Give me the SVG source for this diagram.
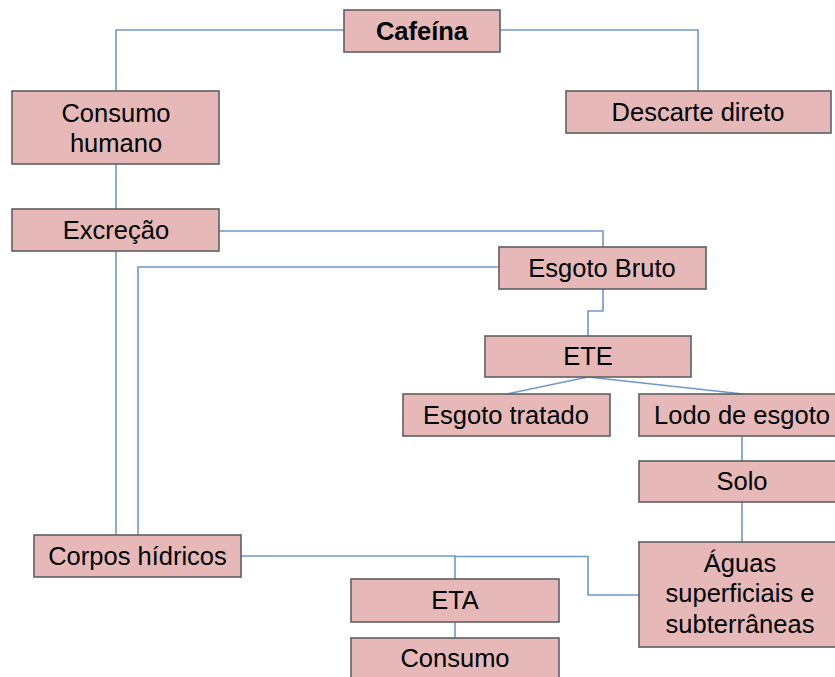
<svg xmlns="http://www.w3.org/2000/svg" width="835" height="677" viewBox="0 0 835 677">
<style>
.box{fill:#e6b9b8;stroke:#5f5f5f;stroke-width:1.6}
.t{font-family:"Liberation Sans",Arial,sans-serif;font-size:25.5px;fill:#000;text-anchor:middle}
.b{font-weight:bold}
.c{fill:none;stroke:#6f97cc;stroke-width:1.6}
</style>
<rect width="835" height="677" fill="#fff"/>
<g id="connectors">
<path class="c" d="M344,30 H116 V91"/>
<path class="c" d="M500,30 H698 V91"/>
<path class="c" d="M116,164 V209"/>
<path class="c" d="M219,231 H603 V247"/>
<path class="c" d="M499,267 H138 V535"/>
<path class="c" d="M116,251 V535"/>
<path class="c" d="M603,289 V311 H588 V336"/>
<path class="c" d="M588,377 L507,394"/>
<path class="c" d="M588,377 L743,394"/>
<path class="c" d="M742,436 V461"/>
<path class="c" d="M742,502 V542"/>
<path class="c" d="M241,556 H455 V579"/>
<path class="c" d="M455,556.5 H588 V595 H639"/>
<path class="c" d="M455,622 V638"/>
</g>
<g id="cafeina"><rect class="box" x="344" y="10" width="156" height="42"/><text class="t b" x="422" y="39.5">Cafeína</text></g>
<g id="consumo-humano"><rect class="box" x="12" y="91" width="207" height="73"/><text class="t" x="116" y="122">Consumo</text><text class="t" x="116" y="152">humano</text></g>
<g id="descarte-direto"><rect class="box" x="566" y="91" width="265" height="42"/><text class="t" x="698" y="120.5">Descarte direto</text></g>
<g id="excrecao"><rect class="box" x="12" y="209" width="207" height="42"/><text class="t" x="116" y="238.5">Excreção</text></g>
<g id="esgoto-bruto"><rect class="box" x="499" y="247" width="207" height="42"/><text class="t" x="602" y="276.5">Esgoto Bruto</text></g>
<g id="ete"><rect class="box" x="485" y="336" width="206" height="41"/><text class="t" x="588" y="365">ETE</text></g>
<g id="esgoto-tratado"><rect class="box" x="403" y="394" width="207" height="42"/><text class="t" x="506" y="423.5">Esgoto tratado</text></g>
<g id="lodo-de-esgoto"><rect class="box" x="639" y="394" width="206" height="42"/><text class="t" x="742" y="423.5">Lodo de esgoto</text></g>
<g id="solo"><rect class="box" x="639" y="461" width="206" height="41"/><text class="t" x="742" y="490">Solo</text></g>
<g id="corpos-hidricos"><rect class="box" x="34" y="535" width="207" height="42"/><text class="t" x="137.5" y="564.5">Corpos hídricos</text></g>
<g id="aguas"><rect class="box" x="639" y="542" width="206" height="105"/><text class="t" x="740" y="572">Águas</text><text class="t" x="740" y="602">superficiais e</text><text class="t" x="740" y="633">subterrâneas</text></g>
<g id="eta"><rect class="box" x="351" y="579" width="208" height="43"/><text class="t" x="455" y="609">ETA</text></g>
<g id="consumo"><rect class="box" x="351" y="638" width="208" height="50"/><text class="t" x="455" y="667">Consumo</text></g>
</svg>
